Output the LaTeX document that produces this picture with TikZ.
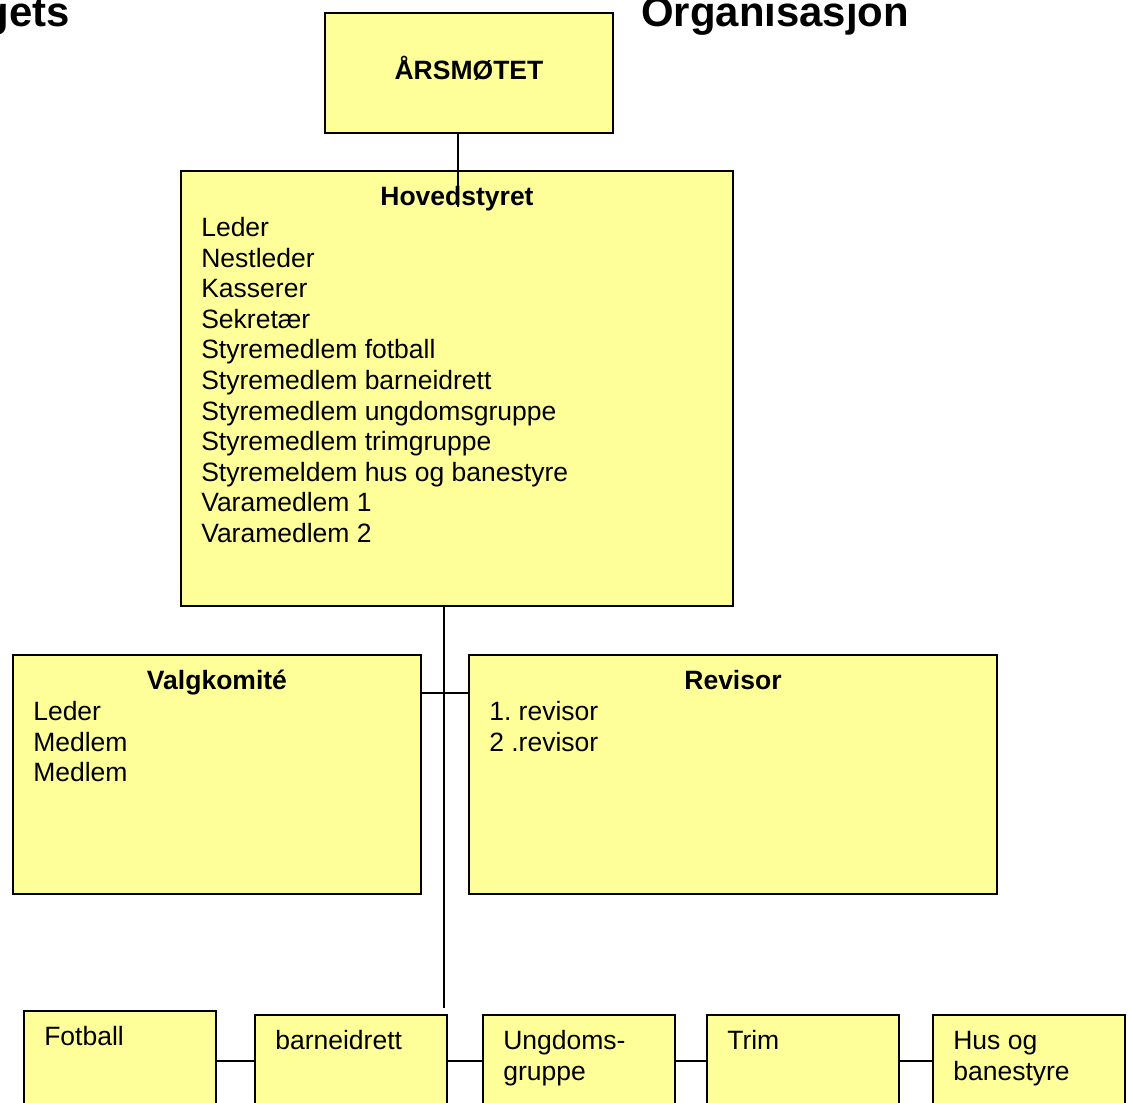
\documentclass[tikz,border=0pt]{standalone}
\usepackage{fontspec}
\setmainfont{Liberation Sans}
\usepackage{tikz}
\usetikzlibrary{calc}
\frenchspacing
\definecolor{boxyellow}{RGB}{255,255,153}
\tikzset{
	orgbox/.style={draw, line width=1.3pt, fill=boxyellow, anchor=north west, inner sep=0pt},
	boxtitle/.style={font=\fontsize{18.85}{21.8}\selectfont\bfseries, anchor=base, inner sep=0pt},
	boxtext/.style={font=\fontsize{18.85}{21.8}\selectfont, anchor=base west, inner sep=0pt},
	pagetitle/.style={font=\fontsize{29.8}{34}\selectfont\bfseries, anchor=base west, inner sep=0pt},
	link/.style={line width=1.3pt}
}
\newcommand{\boxlines}[3]{%
	\foreach \txt [count=\i] in {#3}
		\node[boxtext] (#1-\i) at ($(#1.north west)+(21,#2+30.6*\i-30.6)$) {\txt} ; %
}
\begin{document}
\begin{tikzpicture}[x=0.025cm, y=-0.025cm]
	\path[use as bounding box, clip] (0,0) rectangle (1128,1102) ;
	
	\node[pagetitle, anchor=base east] (titleleft) at (70,27) {gets} ; %
	\node[pagetitle] (titleright) at (641,27) {Organisasjon} ; %
	
	\node[orgbox, minimum width=7.2cm, minimum height=3cm] (aarsmote) at (324,12) {} ; %
	\node[orgbox, minimum width=13.8cm, minimum height=10.875cm] (hoved) at (180,170) {} ; %
	\node[orgbox, minimum width=10.2cm, minimum height=5.975cm] (valg) at (12,654) {} ; %
	\node[orgbox, minimum width=13.2cm, minimum height=5.975cm] (revisor) at (468,654) {} ; %
	\foreach \name/\x/\y in {fotball/23/1010, barn/254/1014, ungdom/482/1014, trim/706/1014, hus/932/1014}
		\node[orgbox, minimum width=4.8cm, minimum height=3.25cm] (\name) at (\x,\y) {} ; %
	
	\node[boxtitle] (aarsmote-t) at ($(aarsmote.north)+(0,67.5)$) {ÅRSMØTET} ; %
	\node[boxtitle] (hoved-t) at ($(hoved.north)+(0,35.5)$) {Hovedstyret} ; %
	\node[boxtitle] (valg-t) at ($(valg.north)+(0,35.5)$) {Valgkomité} ; %
	\node[boxtitle] (revisor-t) at ($(revisor.north)+(0,35.5)$) {Revisor} ; %
	
	\boxlines{hoved}{66.5}{Leder, Nestleder, Kasserer, Sekretær, Styremedlem fotball, Styremedlem barneidrett, Styremedlem ungdomsgruppe, Styremedlem trimgruppe, Styremeldem hus og banestyre, Varamedlem 1, Varamedlem 2}
	\boxlines{valg}{66.5}{Leder, Medlem, Medlem}
	\boxlines{revisor}{66.5}{1. revisor, 2 .revisor}
	\boxlines{fotball}{35.5}{Fotball}
	\boxlines{barn}{35.5}{barneidrett}
	\boxlines{ungdom}{35.5}{Ungdoms-, gruppe}
	\boxlines{trim}{35.5}{Trim}
	\boxlines{hus}{35.5}{Hus og, banestyre}
	
	\coordinate (joint) at (458,207) ;
	\draw[link] (aarsmote.south -| joint) -- (joint) ; %
	\coordinate (trunkend) at (444,1008) ;
	\draw[link] (hoved.south -| trunkend) -- (trunkend) ; %
	\coordinate (branch) at (444,693) ;
	\draw[link] (valg.east |- branch) -- (revisor.west |- branch) ; %
	\coordinate (row) at (0,1061) ;
	\foreach \a/\b in {fotball/barn, barn/ungdom, ungdom/trim, trim/hus}
		\draw[link] (\a.east |- row) -- (\b.west |- row) ; %
\end{tikzpicture}
\end{document}
